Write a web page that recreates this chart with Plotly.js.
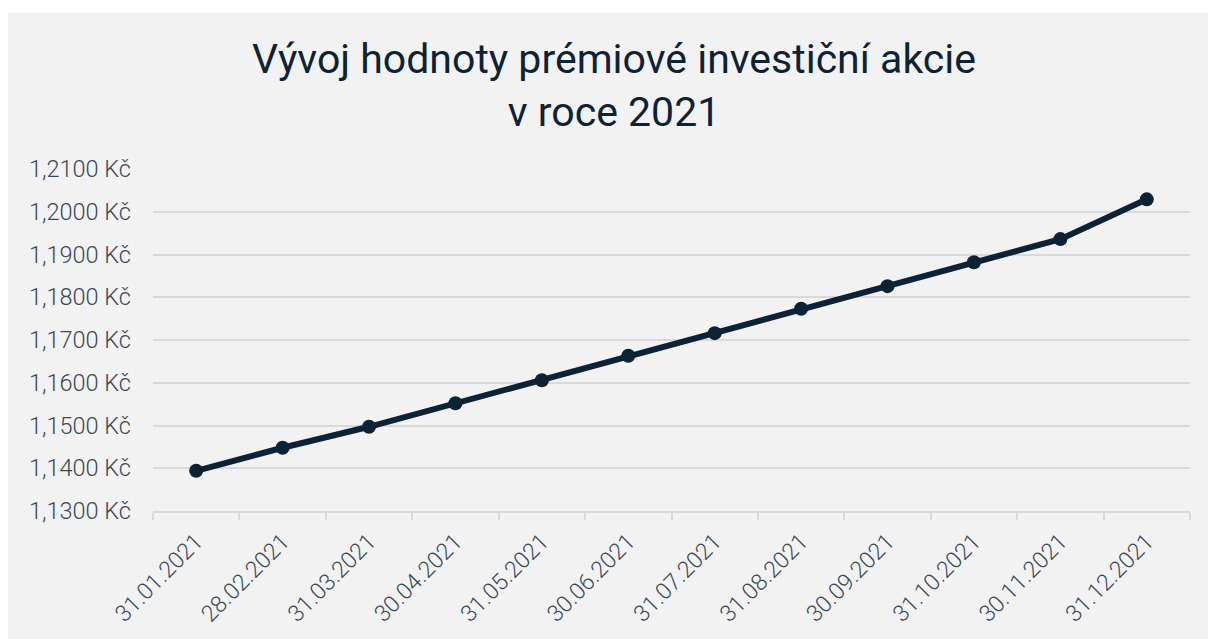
<!DOCTYPE html>
<html>
<head>
<meta charset="utf-8">
<script src="https://cdn.plot.ly/plotly-3.0.1.min.js"></script>
<style>
  html, body { margin: 0; padding: 0; background: #ffffff; }
  #chart { position: absolute; left: 8px; top: 13px; width: 1200px; height: 626px; }
</style>
</head>
<body>
<div id="chart"></div>
<script>
const dates = ["31.01.2021","28.02.2021","31.03.2021","30.04.2021","31.05.2021","30.06.2021",
               "31.07.2021","31.08.2021","30.09.2021","31.10.2021","30.11.2021","31.12.2021"];
const values = [1.1394, 1.1448, 1.1497, 1.1552, 1.1606, 1.1663, 1.1716, 1.1773, 1.1826, 1.1882, 1.1936, 1.2029];
const titleText = "Vývoj hodnoty prémiové investiční akcie<br>v roce 2021";

const navy = "#0e2236";
const tickColor = "#3b4856";
const grid = "#d9d9d9";

const trace = {
  x: dates, y: values, type: "scatter", mode: "lines+markers",
  line: { color: navy, width: 6 },
  marker: { color: navy, size: 14 },
  hoverinfo: "skip"
};

const layout = {
  width: 1200, height: 626,
  paper_bgcolor: "#f2f2f2", plot_bgcolor: "#f2f2f2",
  margin: { l: 145, r: 18, t: 156, b: 128 },
  font: { family: "Roboto, sans-serif", color: tickColor },
  separators: ", ",
  showlegend: false,
  title: {
    text: titleText,
    font: { family: "Roboto, sans-serif", size: 41, color: navy },
    x: 0.505, xanchor: "center",
    yref: "container", y: 0.904, yanchor: "top"
  },
  xaxis: {
    type: "category",
    range: [-0.5, dates.length - 0.5],
    tickson: "boundaries",
    ticks: "outside", ticklen: 7, tickwidth: 2, tickcolor: grid,
    showline: true, linecolor: grid, linewidth: 2,
    showgrid: false, zeroline: false,
    tickangle: -45,
    ticklabelstandoff: 6,
    tickfont: { size: 23, color: tickColor, weight: 300 }
  },
  yaxis: {
    range: [1.13, 1.21], dtick: 0.01, tick0: 1.13,
    tickformat: ".4f", ticksuffix: " Kč",
    showgrid: true, gridcolor: grid, gridwidth: 2,
    zeroline: false, showline: false, ticks: "",
    ticklabelstandoff: 21,
    tickfont: { size: 23.5, color: tickColor, weight: 300 }
  }
};

Plotly.newPlot("chart", [trace], layout, { displayModeBar: false, staticPlot: true });
</script>
</body>
</html>
